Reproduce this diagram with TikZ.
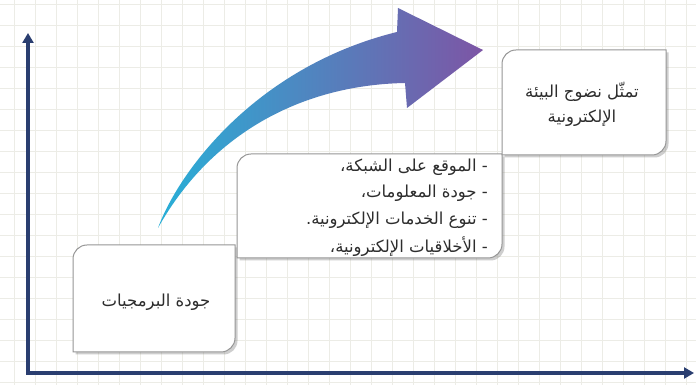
\documentclass[tikz,border=0pt]{standalone}
\usepackage{fontspec}
\newfontfamily\arabicfont[Script=Arabic]{DejaVu Sans}
\TeXXeTstate=1
\usetikzlibrary{shadows,arrows.meta}
\definecolor{axiscol}{RGB}{42,62,112}
\definecolor{gridcol}{RGB}{236,236,230}
\definecolor{boxborder}{RGB}{150,150,150}
\definecolor{arrowA}{RGB}{40,175,215}
\definecolor{arrowB}{RGB}{125,85,165}
\definecolor{textcol}{RGB}{45,45,45}
\tikzset{
  gridline/.style={draw=gridcol, line width=0.7pt},
  boxshape/.style={fill=white, draw=boxborder, line width=1pt,
    drop shadow={shadow xshift=2.5pt, shadow yshift=-2.5pt, opacity=0.35, fill=black!55}},
  axisline/.style={draw=axiscol, line width=3.5pt, -{Triangle[length=10pt,width=11pt]}},
  txt/.style={font=\arabicfont\fontsize{16.5}{25}\selectfont, text=textcol, inner sep=0pt},
}
\begin{document}
\begin{tikzpicture}[x=1pt,y=1pt]
\useasboundingbox (0,0) rectangle (696,385);
\fill[white] (0,0) rectangle (696,385);
% grid
\foreach \i in {0,...,32} \draw[gridline] (14+21*\i,0) -- (14+21*\i,385);
\foreach \j in {0,...,18} \draw[gridline] (0,3+21*\j) -- (696,3+21*\j);
% boxes
\path[boxshape] (154,140) [sharp corners] -- (235,140) -- (235,86) [rounded corners=14pt] -- (235,33) -- (154,33) [sharp corners] -- (73,33) -- (73,86) [rounded corners=14pt] -- (73,140) -- cycle;
\path[boxshape] (370,231) [sharp corners] -- (502,231) -- (502,179) [rounded corners=14pt] -- (502,127) -- (370,127) [sharp corners] -- (237,127) -- (237,179) [rounded corners=14pt] -- (237,231) -- cycle;
\path[boxshape] (584,335) [sharp corners] -- (666,335) -- (666,282) [rounded corners=14pt] -- (666,230) -- (584,230) [sharp corners] -- (502,230) -- (502,282) [rounded corners=14pt] -- (502,335) -- cycle;
% curved arrow
\shade[left color=arrowA, right color=arrowB]
  (158,157) .. controls (178,212) and (255,318) .. (397,353)
  -- (398,377) -- (483,335) -- (407,277) -- (405,302)
  .. controls (300,300) and (210,250) .. (158,157) -- cycle;
% axes
\coordinate (o) at (28,12);
\coordinate (ytop) at (28,352);
\coordinate (xend) at (694,12);
\draw[axisline] (28,10.25) -- (ytop);
\draw[axisline] (26.25,12) -- (xend);
% texts
\node[txt] (t1) at (156,83) {\beginR جودة البرمجيات\endR};
\node[txt, anchor=east] (l1) at (488,218) {\beginR - الموقع على الشبكة،\endR};
\node[txt, anchor=east] (l2) at (488,192) {\beginR - جودة المعلومات،\endR};
\node[txt, anchor=east] (l3) at (488,165) {\beginR - تنوع الخدمات الإلكترونية.\endR};
\node[txt, anchor=east] (l4) at (488,138) {\beginR - الأخلاقيات الإلكترونية،\endR};
\node[txt, align=center] (t3) at (582,281) {\beginR تمثّل نضوج البيئة\endR\\\beginR الإلكترونية\endR};
\end{tikzpicture}
\end{document}
